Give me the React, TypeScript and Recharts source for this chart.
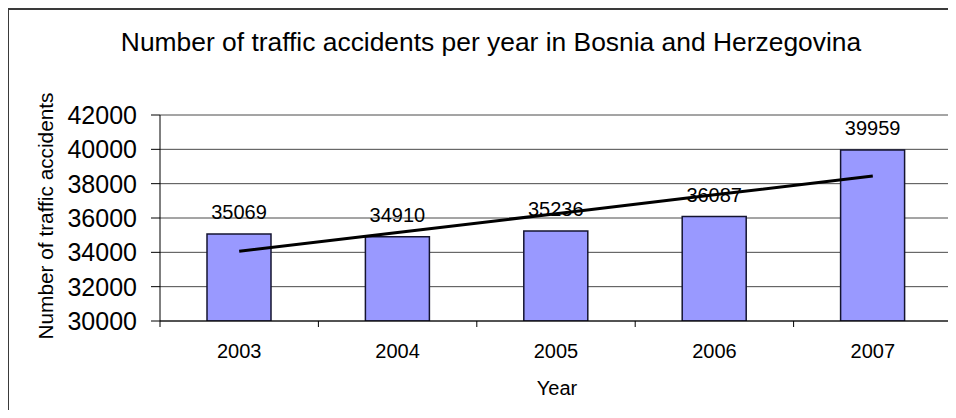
import React from 'react';
import { ComposedChart, Bar, Line, XAxis, YAxis, CartesianGrid, LabelList } from 'recharts';

const years = ['2003', '2004', '2005', '2006', '2007'];
const accidents = [35069, 34910, 35236, 36087, 39959];
const trendValues = [34061, 35156, 36252, 37348, 38444];
const yTicks = [30000, 32000, 34000, 36000, 38000, 40000, 42000];

const data = years.map((year, i) => ({ year, accidents: accidents[i], trend: trendValues[i] }));

const FONT = '"Liberation Sans", Arial, sans-serif';
const W = 956;
const H = 418;
const M = { top: 115, right: 4, bottom: 67, left: 100 };
const Y_AXIS_W = 60;
const PLOT_W = W - M.left - Y_AXIS_W - M.right;
const BAND = PLOT_W / years.length;

const XTick = (props: any) => {
  const { x, y, payload, index } = props;
  const last = index === years.length - 1;
  return (
    <g>
      <line x1={x - BAND / 2} x2={x - BAND / 2} y1={y} y2={y + 6} stroke="#000" strokeWidth={1} />
      {last && <line x1={x + BAND / 2} x2={x + BAND / 2} y1={y} y2={y + 6} stroke="#000" strokeWidth={1} />}
      <text x={x} y={y + 37} textAnchor="middle" fontSize={20} fontFamily={FONT} fill="#000">
        {payload.value}
      </text>
    </g>
  );
};

export default function App() {
  return (
    <div style={{ position: 'relative', width: W - 16, height: H - 16 }}>
      <div
        style={{
          position: 'absolute',
          left: -8,
          top: -8,
          width: W,
          height: H,
          overflow: 'hidden',
          background: 'linear-gradient(90deg, #f7f1dc 0%, #eef0ee 40%, #e6eaf0 100%)',
        }}
      >
        <div
          style={{
            position: 'absolute',
            left: 7,
            top: 8,
            width: 980,
            height: 440,
            border: '2px solid #3a3a3a',
            background: '#fff',
          }}
        />
        <div style={{ position: 'absolute', left: 0, top: 0 }}>
          <ComposedChart width={W} height={H} data={data} margin={M}>
            <CartesianGrid horizontal vertical={false} stroke="#4a4a4a" strokeWidth={1} />
            <XAxis
              dataKey="year"
              axisLine={{ stroke: '#000' }}
              tickLine={false}
              tickSize={0}
              tickMargin={0}
              tick={<XTick />}
              interval={0}
              height={30}
            />
            <YAxis
              domain={[30000, 42000]}
              ticks={yTicks}
              width={Y_AXIS_W}
              axisLine={{ stroke: '#000' }}
              tickLine={{ stroke: '#000' }}
              tickSize={9}
              tickMargin={14}
              tick={{ fontSize: 25, fontFamily: FONT, fill: '#000' }}
              allowDataOverflow
            />
            <Bar dataKey="accidents" barSize={64} fill="#9999ff" stroke="#141430" strokeWidth={1.5} isAnimationActive={false}>
              <LabelList dataKey="accidents" position="top" offset={15} fontSize={20} fontFamily={FONT} fill="#000" />
            </Bar>
            <Line dataKey="trend" type="linear" stroke="#000" strokeWidth={3} dot={false} activeDot={false} isAnimationActive={false} />
          </ComposedChart>
        </div>
        <svg width={W} height={H} style={{ position: 'absolute', left: 0, top: 0, pointerEvents: 'none' }}>
          <text x={491} y={51} textAnchor="middle" fontSize={26.4} fontFamily={FONT} fill="#000">
            Number of traffic accidents per year in Bosnia and Herzegovina
          </text>
          <text x={53} y={216} transform="rotate(-90, 53, 216)" textAnchor="middle" fontSize={20.8} fontFamily={FONT} fill="#000">
            Number of traffic accidents
          </text>
          <text x={557} y={395} textAnchor="middle" fontSize={20} fontFamily={FONT} fill="#000">
            Year
          </text>
        </svg>
      </div>
    </div>
  );
}
